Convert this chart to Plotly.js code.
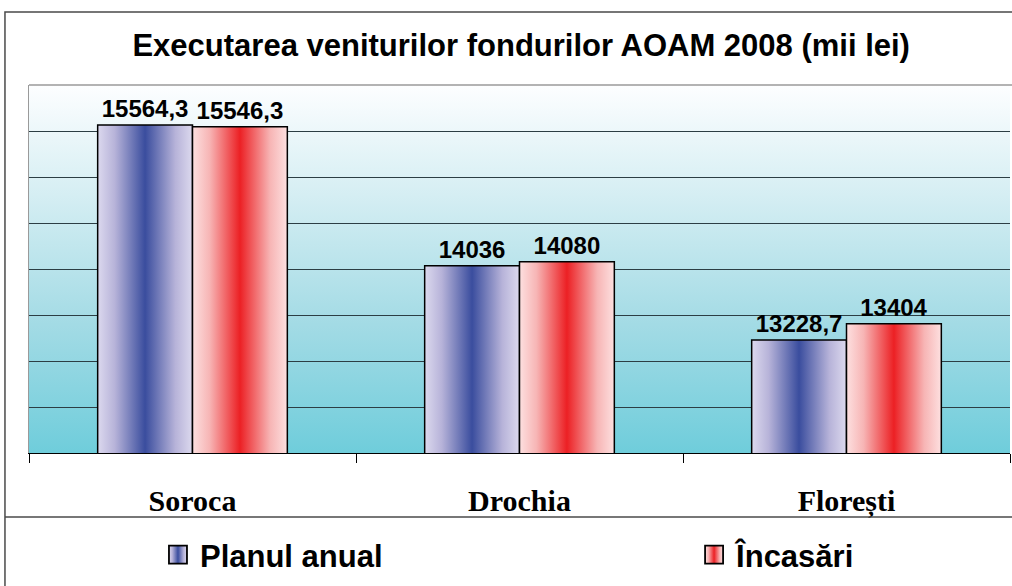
<!DOCTYPE html>
<html>
<head>
<meta charset="utf-8">
<script src="https://cdn.plot.ly/plotly-3.0.1.min.js"></script>
<style>html,body{margin:0;padding:0;background:#fff;}#chart{width:1012px;height:586px;}</style>
</head>
<body>
<div id="chart"></div>
<script>
const categories = ['Soroca', 'Drochia', 'Florești'];
const seriesNames = ['Planul anual', 'Încasări'];
const planulAnual = [15564.3, 14036, 13228.7];
const incasari = [15546.3, 14080, 13404];
const yTickVals = [12000, 12500, 13000, 13500, 14000, 14500, 15000, 15500, 16000];

const fmt = v => String(v).replace('.', ',');

const labelFont = {family: 'Liberation Sans, Arial, sans-serif', size: 24, color: '#000', weight: 'bold'};
const legendFont = {family: 'Liberation Sans, Arial, sans-serif', size: 31, color: '#000', weight: 'bold'};

const traces = [
  {type: 'bar', name: seriesNames[0], x: categories, y: planulAnual, legend: 'legend',
   text: planulAnual.map(fmt), textposition: 'outside', textfont: labelFont, cliponaxis: false,
   marker: {color: '#3b4ea0', line: {color: '#000', width: 1.5}}, hoverinfo: 'none'},
  {type: 'bar', name: seriesNames[1], x: categories, y: incasari, legend: 'legend2',
   text: incasari.map(fmt), textposition: 'outside', textfont: labelFont, cliponaxis: false,
   marker: {color: '#ee2222', line: {color: '#000', width: 1.5}}, hoverinfo: 'none'}
];

const layout = {
  width: 1012, height: 586,
  margin: {l: 29, r: 2, t: 85, b: 133},
  paper_bgcolor: '#fff',
  plot_bgcolor: '#a8dde6',
  title: {text: 'Executarea veniturilor fondurilor AOAM 2008 (mii lei)',
          font: {family: 'Liberation Sans, Arial, sans-serif', size: 31, color: '#000', weight: 'bold'},
          x: 0.515, xanchor: 'center', y: 0.923, yanchor: 'middle'},
  barmode: 'group', bargap: 0.42, bargroupgap: 0,
  showlegend: true,
  legend: {orientation: 'h', x: 0.1335, y: -0.277, xanchor: 'left', yanchor: 'middle',
           font: legendFont, bgcolor: 'rgba(0,0,0,0)'},
  legend2: {orientation: 'h', x: 0.68, y: -0.277, xanchor: 'left', yanchor: 'middle',
           font: legendFont, bgcolor: 'rgba(0,0,0,0)'},
  xaxis: {showline: true, linecolor: '#000', linewidth: 1, ticks: 'outside', tickson: 'boundaries',
          ticklen: 9, tickcolor: '#000', tickwidth: 1, showgrid: false, automargin: false,
          tickfont: {family: 'Liberation Serif, Times New Roman, serif', size: 30, color: '#000', weight: 'bold'},
          ticklabelstandoff: 21},
  yaxis: {range: [12000, 16000], tickvals: yTickVals, showticklabels: false, ticks: '', automargin: false,
          showgrid: true, gridcolor: '#2c3e44', gridwidth: 1, zeroline: false,
          showline: true, linecolor: '#9a9a9a', linewidth: 1.5},
  shapes: [
    {type: 'rect', xref: 'paper', yref: 'paper', x0: -0.0245, x1: 1.01, y0: -0.4, y1: 1.1984,
     line: {color: '#4a4a4a', width: 1.5}, fillcolor: 'rgba(0,0,0,0)'},
    {type: 'line', xref: 'paper', yref: 'paper', x0: -0.0245, x1: 1.01, y0: -0.174, y1: -0.174,
     line: {color: '#4a4a4a', width: 1.5}},
    {type: 'line', xref: 'paper', yref: 'paper', x0: 0, x1: 1.01, y0: 1, y1: 1,
     line: {color: '#9a9a9a', width: 1.5}}
  ]
};

Plotly.newPlot('chart', traces, layout, {staticPlot: true}).then(gd => {
  const svgNS = 'http://www.w3.org/2000/svg';
  const svg = gd.querySelector('svg.main-svg');
  let defs = svg.querySelector('defs');
  if (!defs) { defs = document.createElementNS(svgNS, 'defs'); svg.insertBefore(defs, svg.firstChild); }
  function grad(id, stops, vertical) {
    const g = document.createElementNS(svgNS, 'linearGradient');
    g.setAttribute('id', id);
    g.setAttribute('x1', '0'); g.setAttribute('y1', '0');
    g.setAttribute('x2', vertical ? '0' : '1'); g.setAttribute('y2', vertical ? '1' : '0');
    stops.forEach(([o, c]) => {
      const s = document.createElementNS(svgNS, 'stop');
      s.setAttribute('offset', o); s.setAttribute('stop-color', c);
      g.appendChild(s);
    });
    defs.appendChild(g);
  }
  grad('gBlue', [[0, '#dcd9ee'], [0.18, '#b7b3d9'], [0.5, '#3a4d9e'], [0.82, '#b7b3d9'], [1, '#dcd9ee']], false);
  grad('gRed', [[0, '#fde0e0'], [0.18, '#f7b5b5'], [0.5, '#ec2024'], [0.82, '#f7b5b5'], [1, '#fde0e0']], false);
  grad('gBg', [[0, '#fdfeff'], [0.3, '#d5eef3'], [0.65, '#a3dbe5'], [1, '#6fcddb']], true);
  const fills = ['url(#gBlue)', 'url(#gRed)'];
  gd.querySelectorAll('g.barlayer g.trace').forEach((t, i) => {
    t.querySelectorAll('path').forEach(p => { p.style.fill = fills[i]; });
  });
  [['.infolayer .legend', 0], ['.infolayer .legend2', 1]].forEach(([sel, i]) => {
    gd.querySelectorAll(sel + ' .legendpoints path').forEach(p => {
      p.style.fill = fills[i];
      p.style.stroke = '#000';
      p.style.strokeWidth = '1.2px';
      p.setAttribute('transform', 'translate(18,0) scale(1.5)');
    });
  });
  Array.from(gd.querySelectorAll('rect.bg')).filter(r => !r.closest('.infolayer'))
    .forEach(r => { r.style.fill = 'url(#gBg)'; });
});
</script>
</body>
</html>
